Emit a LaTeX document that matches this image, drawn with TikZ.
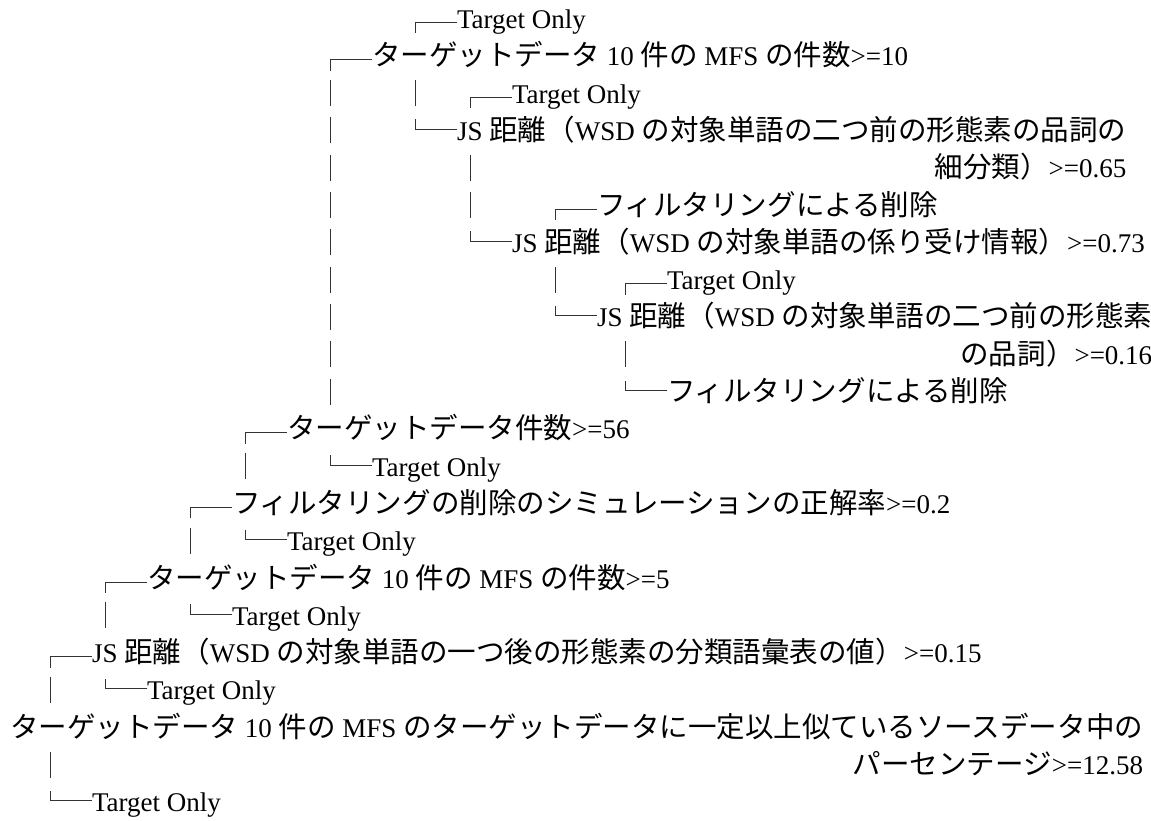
\documentclass[tikz,border=0pt]{standalone}
\usepackage{fontspec}
\setmainfont{Liberation Serif}
\newfontfamily\cjk[Scale=1.056]{Noto Sans CJK JP}
\newcommand\J[1]{{\cjk #1}}
\begin{document}
\begin{tikzpicture}[x=1pt,y=-37.3pt,
  lbl/.style={anchor=base west, inner sep=0pt, outer sep=0pt, font=\fontsize{27pt}{31pt}\selectfont},
  rlbl/.style={lbl, anchor=base east},
  conn/.style={line width=0.9pt, black!80}]
\useasboundingbox (0pt,28.5pt) rectangle (1151pt,-792.5pt);
\newcommand\vb[2]{\draw[conn] ([yshift=-3pt]#1,#2) -- ++(0pt,26pt);}
\newcommand\up[1]{\draw[conn] ([yshift=6pt]#1.base west) -| ++(-42pt,-11pt);}
\newcommand\dn[1]{\draw[conn] ([yshift=11pt]#1.base west) -| ++(-42pt,10pt);}
% nodes
\node[lbl] (n1) at (457,0) {Target Only};
\node[lbl] (n2) at (372,1) {\J{ターゲットデータ} 10 \J{件の} MFS \J{の件数}>=10};
\node[lbl] (n3) at (512,2) {Target Only};
\node[lbl] (n4) at (457,3) {JS \J{距離（}WSD \J{の対象単語の二つ前の形態素の品詞の}};
\node[rlbl] (n5) at ([yshift=-37.3pt]n4.base east) {\J{細分類）}>=0.65};
\node[lbl] (n6) at (597,5) {\J{フィルタリングによる削除}};
\node[lbl] (n7) at (512,6) {JS \J{距離（}WSD \J{の対象単語の係り受け情報）}>=0.73};
\node[lbl] (n8) at (667,7) {Target Only};
\node[lbl] (n9) at (597,8) {JS \J{距離（}WSD \J{の対象単語の二つ前の形態素}};
\node[rlbl] (n10) at ([yshift=-37.3pt]n9.base east) {\J{の品詞）}>=0.16};
\node[lbl] (n11) at (667,10) {\J{フィルタリングによる削除}};
\node[lbl] (n12) at (287,11) {\J{ターゲットデータ件数}>=56};
\node[lbl] (n13) at (372,12) {Target Only};
\node[lbl] (n14) at (232,13) {\J{フィルタリングの削除のシミュレーションの正解率}>=0.2};
\node[lbl] (n15) at (287,14) {Target Only};
\node[lbl] (n16) at (147,15) {\J{ターゲットデータ} 10 \J{件の} MFS \J{の件数}>=5};
\node[lbl] (n17) at (232,16) {Target Only};
\node[lbl] (n18) at (92,17) {JS \J{距離（}WSD \J{の対象単語の一つ後の形態素の分類語彙表の値）}>=0.15};
\node[lbl] (n19) at (147,18) {Target Only};
\node[lbl] (n20) at (10,19) {\J{ターゲットデータ} 10 \J{件の} MFS \J{のターゲットデータに一定以上似ているソースデータ中の}};
\node[rlbl] (n21) at ([yshift=-37.3pt]n20.base east) {\J{パーセンテージ}>=12.58};
\node[lbl] (n22) at (92,21) {Target Only};
% connectors
\up{n1}\up{n2}\up{n3}\dn{n4}\up{n6}\dn{n7}\up{n8}\dn{n9}\dn{n11}
\up{n12}\dn{n13}\up{n14}\dn{n15}\up{n16}\dn{n17}\up{n18}\dn{n19}\dn{n22}
% vertical continuation bars
\foreach \L in {2,...,10} {\vb{330}{\L}}
\vb{415}{2}
\vb{470}{4}\vb{470}{5}
\vb{555}{7}
\vb{625}{9}
\vb{245}{12}
\vb{190}{14}
\vb{105}{16}
\vb{50}{18}
\vb{50}{20}
\end{tikzpicture}
\end{document}
